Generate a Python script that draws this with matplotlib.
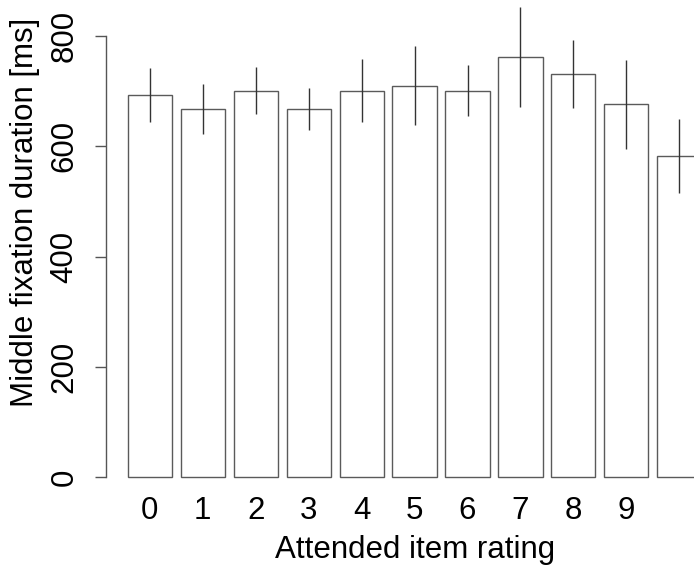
import matplotlib
matplotlib.use("Agg")
import matplotlib.pyplot as plt
import numpy as np

ratings = ["0", "1", "2", "3", "4", "5", "6", "7", "8", "9", ""]
means = [693, 668, 701, 667, 701, 710, 701, 762, 731, 676, 582]
errs = [49, 45, 42, 38, 57, 71, 46, 91, 61, 81, 67]

plt.rcParams['font.family'] = ['Liberation Sans', 'DejaVu Sans']
FS = 22.5

W, H = 694, 572
fig = plt.figure(figsize=(W / 100, H / 100), dpi=100)

# pixel geometry
px_per_unit_y = 0.55125
y0_pix = 477
ylim = (-20, 870)
ybot_pix = y0_pix + (0 - ylim[0]) * px_per_unit_y
ytop_pix = y0_pix - ylim[1] * px_per_unit_y

px_per_unit_x = 44.13
xlim = (-0.292, 13.72)
xl_pix = 106
xr_pix = xl_pix + (xlim[1] - xlim[0]) * px_per_unit_x

ax = fig.add_axes([xl_pix / W, (H - ybot_pix) / H,
                   (xr_pix - xl_pix) / W, (ybot_pix - ytop_pix) / H])

n = len(means)
centers = 0.7 + 1.2 * np.arange(n)
ax.bar(centers, means, width=1.0, color='white', edgecolor='#5a5a5a', linewidth=1.0, zorder=2)
ax.vlines(centers, np.array(means) - np.array(errs), np.array(means) + np.array(errs),
          color='#333333', linewidth=1.0, zorder=3, clip_on=False)

ax.set_xlim(*xlim)
ax.set_ylim(*ylim)

for s in ['top', 'right', 'bottom']:
    ax.spines[s].set_visible(False)
ax.spines['left'].set_bounds(0, 800)
ax.spines['left'].set_color('#555555')
ax.spines['left'].set_linewidth(1.0)

ax.set_yticks([0, 200, 400, 600, 800])
ax.set_yticklabels(["0", "200", "400", "600", "800"], rotation=90, va='center', fontsize=FS)
ax.tick_params(axis='y', length=8, width=1.0, color='#555555', pad=11)

ax.set_xticks(centers)
ax.set_xticklabels(ratings, fontsize=FS)
ax.tick_params(axis='x', length=0, pad=6)

ax.set_xlabel("Attended item rating", fontsize=FS, labelpad=6)
ax.set_ylabel("Middle fixation duration [ms]", fontsize=FS)
axw = xr_pix - xl_pix
axh = ybot_pix - ytop_pix
ax.yaxis.set_label_coords((40 - xl_pix) / axw, (ybot_pix - 212) / axh)

ax.patch.set_alpha(0)
fig.savefig("out.png", dpi=100)
